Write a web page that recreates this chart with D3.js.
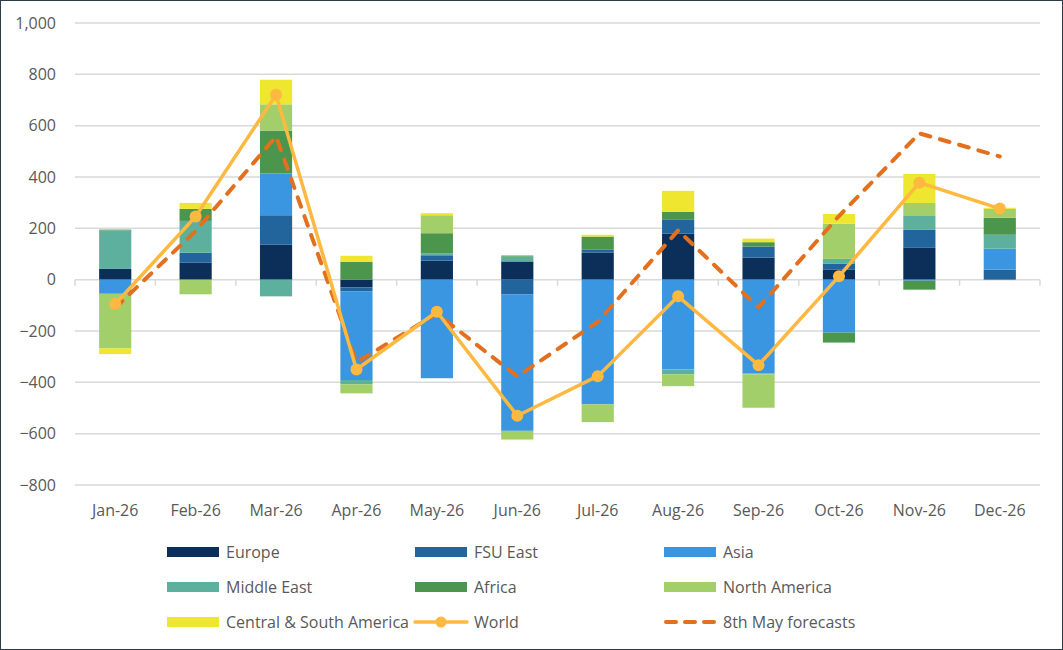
<!DOCTYPE html>
<html>
<head>
<meta charset="utf-8">
<script src="https://cdn.jsdelivr.net/npm/d3@7"></script>
<style>
  body { margin: 0; background: #fff; }
  text { font-family: "Open Sans", sans-serif; fill: #595959; }
</style>
</head>
<body>
<div id="chart"></div>
<script>
var svgWidth = 1063;
var svgHeight = 650;

var margin = { top: 23, right: 23, bottom: 165, left: 75 };
var width = 1040 - margin.left;
var height = 485 - margin.top;

// chart data
var months = ["Jan-26", "Feb-26", "Mar-26", "Apr-26", "May-26", "Jun-26",
  "Jul-26", "Aug-26", "Sep-26", "Oct-26", "Nov-26", "Dec-26"];
var europe       = [42, 67, 136, -30, 74, 71, 106, 179, 86, 40, 124, 0];
var fsuEast      = [0, 38, 115, -15, 21, -58, 12, 54, 43, 23, 70, 39];
var asia         = [-55, 0, 163, -346, -384, -531, -486, -350, -365, -206, -4, 82];
var middleEast   = [150, 124, -65, -17, 8, 19, 0, -19, -4, 18, 54, 54];
var africa       = [3, 47, 167, 70, 78, 4, 50, 31, 17, -39, -35, 66];
var northAmerica = [-213, -57, 102, -35, 70, -32, -69, -46, -130, 137, 51, 35];
var csAmerica    = [-22, 23, 96, 23, 8, -4, 7, 82, 14, 38, 113, 4];
var world        = [-95, 246, 720, -350, -125, -530, -376, -65, -333, 13, 378, 277];
var mayForecast  = [-110, 190, 558, -322, -132, -377, -165, 192, -108, 248, 570, 480];
var yTicks = [-800, -600, -400, -200, 0, 200, 400, 600, 800, 1000];

var seriesNames = ["Europe", "FSU East", "Asia", "Middle East", "Africa",
  "North America", "Central & South America"];
var seriesValues = [europe, fsuEast, asia, middleEast, africa, northAmerica, csAmerica];
var colors = ["#0b2f59", "#22659c", "#3a96e0", "#5cb09d", "#4c954c", "#a2cf6a", "#efe62f"];

var worldColor = "#ffb840";
var forecastColor = "#e2701f";

var svg = d3.select("#chart")
  .append("svg")
  .attr("width", svgWidth)
  .attr("height", svgHeight);

svg.append("rect")
  .attr("x", 0.5).attr("y", 0.5)
  .attr("width", svgWidth - 1).attr("height", svgHeight - 1)
  .attr("fill", "#fff")
  .attr("stroke", "#2e3b48");

var chartGroup = svg.append("g")
  .attr("transform", `translate(${margin.left}, ${margin.top})`);

var xScale = d3.scaleBand()
  .domain(months)
  .range([0, width])
  .paddingInner(0.6)
  .paddingOuter(0.3);

var xBand = d3.scaleBand().domain(months).range([0, width]);

var yScale = d3.scaleLinear()
  .domain([-800, 1000])
  .range([height, 0]);

// gridlines
chartGroup.append("g")
  .selectAll("line")
  .data(yTicks)
  .enter()
  .append("line")
  .attr("x1", 0)
  .attr("x2", width)
  .attr("y1", d => yScale(d))
  .attr("y2", d => yScale(d))
  .attr("stroke", "#d9d9d9")
  .attr("stroke-width", 1.5);

// y axis labels
var leftAxis = d3.axisLeft(yScale)
  .tickValues(yTicks)
  .tickSize(0)
  .tickPadding(19)
  .tickFormat(d3.format(","));

var yAxis = chartGroup.append("g").call(leftAxis);
yAxis.select(".domain").remove();
yAxis.selectAll("text")
  .attr("font-size", "16px")
  .attr("fill", "#595959")
  .style("font-family", "'Open Sans', sans-serif");

// zero-line category ticks
var bounds = months.map(m => xBand(m)).concat([width]);
chartGroup.append("g")
  .selectAll("line")
  .data(bounds)
  .enter()
  .append("line")
  .attr("x1", d => d)
  .attr("x2", d => d)
  .attr("y1", yScale(0))
  .attr("y2", yScale(0) + 6)
  .attr("stroke", "#d9d9d9")
  .attr("stroke-width", 1.5);

// x labels
chartGroup.append("g")
  .selectAll("text")
  .data(months)
  .enter()
  .append("text")
  .attr("x", d => xBand(d) + xBand.bandwidth() / 2)
  .attr("y", height + 31)
  .attr("text-anchor", "middle")
  .attr("font-size", "16px")
  .text(d => d);

// stacked bars
var tableData = months.map(function (m, i) {
  var row = { month: m };
  seriesNames.forEach(function (s, j) { row[s] = seriesValues[j][i]; });
  return row;
});

var stack = d3.stack()
  .keys(seriesNames)
  .offset(d3.stackOffsetDiverging);

var stacked = stack(tableData);

chartGroup.append("g")
  .selectAll("g")
  .data(stacked)
  .enter()
  .append("g")
  .attr("fill", (d, i) => colors[i])
  .selectAll("rect")
  .data(d => d)
  .enter()
  .append("rect")
  .attr("x", d => xScale(d.data.month))
  .attr("width", xScale.bandwidth())
  .attr("y", d => yScale(Math.max(d[0], d[1])))
  .attr("height", d => Math.abs(yScale(d[0]) - yScale(d[1])));

var cx = d => xBand(d) + xBand.bandwidth() / 2;

// forecast line
var forecastLine = d3.line()
  .x((d, i) => cx(months[i]))
  .y(d => yScale(d));

chartGroup.append("path")
  .datum(mayForecast)
  .attr("d", forecastLine)
  .attr("fill", "none")
  .attr("stroke", forecastColor)
  .attr("stroke-width", 4)
  .attr("stroke-dasharray", "10,10")
  .attr("stroke-linecap", "round");

// world line
chartGroup.append("path")
  .datum(world)
  .attr("d", forecastLine)
  .attr("fill", "none")
  .attr("stroke", worldColor)
  .attr("stroke-width", 3.5)
  .attr("stroke-linejoin", "round");

chartGroup.append("g")
  .selectAll("circle")
  .data(world)
  .enter()
  .append("circle")
  .attr("cx", (d, i) => cx(months[i]))
  .attr("cy", d => yScale(d))
  .attr("r", 6)
  .attr("fill", worldColor);

// legend
var legendItems = seriesNames.map((n, i) => ({ name: n, type: "bar", color: colors[i] }))
  .concat([{ name: "World", type: "world" }, { name: "8th May forecasts", type: "forecast" }]);

var colX = [167, 415, 664];
var rowY = [552, 587, 622];

var legend = svg.append("g");
legendItems.forEach(function (item, i) {
  var x = colX[i % 3];
  var y = rowY[Math.floor(i / 3)];
  var g = legend.append("g").attr("transform", `translate(${x},${y})`);
  if (item.type == "bar") {
    g.append("rect")
      .attr("x", 0).attr("y", -5)
      .attr("width", 52).attr("height", 10)
      .attr("fill", item.color);
  } else if (item.type == "world") {
    g.append("line")
      .attr("x1", 0).attr("x2", 52)
      .attr("stroke", worldColor).attr("stroke-width", 3.5)
      .attr("stroke-linecap", "round");
    g.append("circle").attr("cx", 26).attr("r", 5.5).attr("fill", worldColor);
  } else {
    g.append("line")
      .attr("x1", 2).attr("x2", 52)
      .attr("stroke", forecastColor).attr("stroke-width", 4)
      .attr("stroke-dasharray", "10,9")
      .attr("stroke-linecap", "round");
  }
  g.append("text")
    .attr("x", 59)
    .attr("y", 0)
    .attr("dy", "0.35em")
    .attr("font-size", "16px")
    .text(item.name);
});
</script>
</body>
</html>
